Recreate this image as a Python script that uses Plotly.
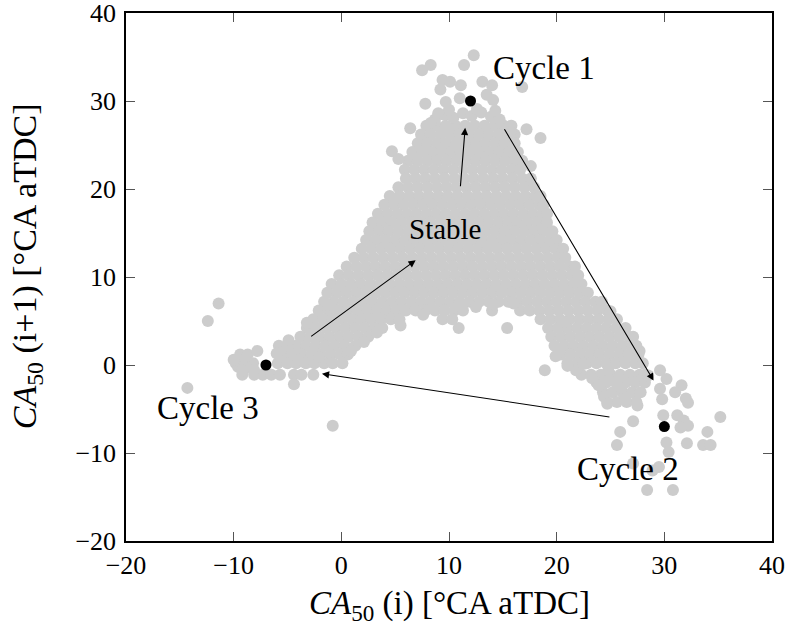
import plotly.graph_objects as go

# ---------------- data ----------------
tick_vals = [-20, -10, 0, 10, 20, 30, 40]
tick_text = ["\u221220", "\u221210", "0", "10", "20", "30", "40"]

# dense cloud, listed row by row: y value -> x values of the points in that row
core_rows = {
    27.2: [7.9, 8.8, 9.7, 10.6, 11.5, 12.4, 13.3, 14.2, 15.1, 15.8],
    26.2: [7.4, 8.3, 9.2, 10.1, 11.0, 11.9, 12.8, 13.7, 14.6, 15.5, 16.1],
    25.2: [7.1, 8.0, 8.9, 9.8, 10.7, 11.6, 12.5, 13.4, 14.3, 15.2, 16.1],
    24.2: [6.6, 7.5, 8.4, 9.3, 10.2, 11.1, 12.0, 12.9, 13.8, 14.7, 15.6, 16.4],
    23.2: [6.2, 7.1, 8.0, 8.9, 9.8, 10.7, 11.6, 12.5, 13.4, 14.3, 15.2, 16.1, 16.8],
    22.2: [5.9, 6.8, 7.7, 8.6, 9.5, 10.4, 11.3, 12.2, 13.1, 14.0, 14.9, 15.8, 16.6],
    21.2: [6.0, 6.9, 7.8, 8.7, 9.6, 10.5, 11.4, 12.3, 13.2, 14.1, 15.0, 15.9, 16.8, 17.6],
    20.2: [5.3, 6.2, 7.1, 8.0, 8.9, 9.8, 10.7, 11.6, 12.5, 13.4, 14.3, 15.2, 16.1, 17.0, 17.9],
    19.2: [4.5, 5.4, 6.3, 7.2, 8.1, 9.0, 9.9, 10.8, 11.7, 12.6, 13.5, 14.4, 15.3, 16.2,
           17.1, 18.0, 18.5],
    18.2: [4.0, 4.9, 5.8, 6.7, 7.6, 8.5, 9.4, 10.3, 11.2, 12.1, 13.0, 13.9, 14.8, 15.7,
           16.6, 17.5, 18.4, 18.8],
    17.2: [3.4, 4.3, 5.2, 6.1, 7.0, 7.9, 8.8, 9.7, 10.6, 11.5, 12.4, 13.3, 14.2, 15.1,
           16.0, 16.9, 17.8, 18.7, 19.1],
    16.2: [2.9, 3.8, 4.7, 5.6, 6.5, 7.4, 8.3, 9.2, 10.1, 11.0, 11.9, 12.8, 13.7, 14.6,
           15.5, 16.4, 17.3, 18.2, 19.1],
    15.2: [2.6, 3.5, 4.4, 5.3, 6.2, 7.1, 8.0, 8.9, 9.8, 10.7, 11.6, 12.5, 13.4, 14.3,
           15.2, 16.1, 17.0, 17.9, 18.8, 19.6],
    14.2: [2.3, 3.2, 4.1, 5.0, 5.9, 6.8, 7.7, 8.6, 9.5, 10.4, 11.3, 12.2, 13.1, 14.0,
           14.9, 15.8, 16.7, 17.6, 18.5, 19.4, 20.0],
    13.2: [1.9, 2.8, 3.7, 4.6, 5.5, 6.4, 7.3, 8.2, 9.1, 10.0, 10.9, 11.8, 12.7, 13.6,
           14.5, 15.4, 16.3, 17.2, 18.1, 19.0, 19.9, 20.6],
    12.2: [1.2, 2.1, 3.0, 3.9, 4.8, 5.7, 6.6, 7.5, 8.4, 9.3, 10.2, 11.1, 12.0, 12.9,
           13.8, 14.7, 15.6, 16.5, 17.4, 18.3, 19.2, 20.1, 20.8],
    11.2: [0.5, 1.4, 2.3, 3.2, 4.1, 5.0, 5.9, 6.8, 7.7, 8.6, 9.5, 10.4, 11.3, 12.2,
           13.1, 14.0, 14.9, 15.8, 16.7, 17.6, 18.5, 19.4, 20.3, 21.2, 21.7],
    10.2: [-0.2, 0.7, 1.6, 2.5, 3.4, 4.3, 5.2, 6.1, 7.0, 7.9, 8.8, 9.7, 10.6, 11.5,
           12.4, 13.3, 14.2, 15.1, 16.0, 16.9, 17.8, 18.7, 19.6, 20.5, 21.4, 22.0],
    9.2: [-0.9, 0.0, 0.9, 1.8, 2.7, 3.6, 4.5, 5.4, 6.3, 7.2, 8.1, 9.0, 9.9, 10.8, 11.7,
          12.6, 13.5, 14.4, 15.3, 16.2, 17.1, 18.0, 18.9, 19.8, 20.7, 21.6, 22.3],
    8.2: [-1.3, -0.4, 0.5, 1.4, 2.3, 3.2, 4.1, 5.0, 5.9, 6.8, 7.7, 8.6, 9.5, 10.4, 11.3,
          12.2, 13.1, 14.0, 14.9, 15.8, 16.7, 17.6, 18.5, 19.4, 20.3, 21.2, 22.1, 22.9],
    7.2: [-1.6, -0.7, 0.2, 1.1, 2.0, 2.9, 3.8, 4.7, 5.6, 6.5, 7.4, 8.3, 9.2, 10.1, 11.0,
          11.9, 12.8, 13.7, 14.6, 15.5, 16.4, 17.3, 18.2, 19.1, 20.0, 20.9, 21.8, 22.7,
          23.6, 24.2],
    6.2: [-2.1, -1.2, -0.3, 0.6, 1.5, 2.4, 3.3, 4.2, 5.1, 6.0, 6.9, 7.8, 8.7, 9.6, 10.5,
          11.3, 14.0, 16.6, 17.5, 18.4, 19.3, 20.2, 21.1, 22.0, 22.9, 23.8, 24.7],
    5.2: [-2.6, -1.7, -0.8, 0.1, 1.0, 1.9, 2.8, 3.7, 4.6, 5.4, 9.4, 10.3, 18.5, 19.4,
          20.3, 21.2, 22.1, 23.0, 23.9, 24.8, 25.6],
    4.2: [-3.2, -2.3, -1.4, -0.5, 0.4, 1.3, 2.2, 3.1, 3.8, 10.9, 15.4, 19.2, 20.1, 21.0,
          21.9, 22.8, 23.7, 24.6, 25.5, 26.4],
    3.2: [-3.8, -2.9, -2.0, -1.1, -0.2, 0.7, 1.6, 2.5, 19.5, 20.4, 21.3, 22.2, 23.1,
          24.0, 24.9, 25.8, 26.7, 27.1],
    2.2: [-5.8, -5.0, -4.2, -3.3, -2.4, -1.5, -0.6, 0.3, 1.3, 19.8, 20.7, 21.6, 22.5,
          23.4, 24.3, 25.2, 26.1, 27.0, 27.4],
    1.2: [-9.4, -8.7, -5.4, -4.6, -3.7, -2.8, -1.9, -1.0, -0.1, 0.6, 20.4, 21.3, 22.2,
          23.1, 24.0, 24.9, 25.8, 26.7, 27.6],
    0.2: [-9.8, -9.0, -8.2, -5.9, -5.0, -4.2, -3.3, -2.5, -1.6, -0.8, 0.1, 21.0, 21.9,
          22.8, 23.7, 24.6, 25.5, 26.4, 27.3, 28.0],
    -1.1: [-9.2, -8.1, -7.3, -6.5, -5.7, -4.4, -3.7, -2.6, 22.3, 23.2, 24.1, 25.0, 25.9,
           26.8, 27.7, 28.2],
    -2.0: [23.7, 24.6, 25.5, 26.4, 27.3, 28.2],
    -3.1: [24.3, 25.2, 26.1, 27.0, 27.8],
    -4.2: [24.7, 25.6, 26.5, 27.4],
}

# irregular top edge of the dense cloud and the sparse points near cycle 1
top_x = [8.7, 9.6, 10.4, 11.3, 12.1, 13.0, 13.9, 14.7, 10.0, 12.6, 14.3,
         7.5, 8.3, 11.4, 12.3, 9.4, 10.1, 11.1, 9.2, 13.1, 14.0, 7.8, 9.7, 11.0,
         13.5, 14.1, 16.8, 9.0, 6.4, 8.3, 15.7, 17.2, 18.5, 4.7, 5.3, 17.6]
top_y = [27.9, 28.4, 28.1, 28.6, 28.3, 28.7, 28.2, 27.9, 29.0, 29.1, 28.9,
         33.5, 34.1, 34.1, 35.2, 32.4, 32.2, 31.8, 31.3, 32.2, 31.8, 29.7, 29.9, 30.3,
         30.7, 30.1, 31.6, 28.6, 26.9, 27.5, 26.5, 26.8, 25.8, 24.3, 23.4, 22.6]

# irregular edge points along the arms
edge_x = [-7.8, -6.0, -4.9, -3.2, -1.2, 0.9, 2.1, 3.3, 5.5, 7.6, 12.5, 16.0,
          19.9, 21.8, 23.3, 24.4, 26.0, 27.7, -9.6, -8.5, -4.0, -2.1, 20.8, 25.0]
edge_y = [1.6, 1.3, 2.8, 4.8, 6.8, 1.6, 2.6, 3.7, 4.5, 5.7, 6.6, 7.0,
          1.0, -0.6, -1.5, -3.6, -2.6, 1.6, -0.2, -0.3, 0.6, 0.9, 4.9, 6.1]

# scattered points on the right (near cycle 2)
right_x = [29.6, 30.2, 31.6, 31.0, 32.0, 32.2, 29.6, 29.8, 29.9, 31.2, 31.8, 32.2,
           31.5, 35.2, 34.0, 33.6, 34.3, 32.1, 30.2, 30.4, 29.5, 28.9, 28.4, 30.8,
           27.1, 25.6, 25.9, 27.1, 24.7, 27.5, 26.4, 23.9, 24.8, 18.9, 21.0, 22.5,
           28.5, 14.1]
right_y = [-0.6, -1.6, -2.3, -3.1, -3.8, -4.3, -2.7, -3.9, -5.7, -5.7, -6.3, -6.9,
           -7.1, -5.9, -7.6, -9.1, -9.1, -8.9, -8.8, -9.9, -11.6, -12.0, -14.2, -14.2,
           -11.2, -9.1, -7.6, -6.4, -4.4, -4.6, -4.0, -2.3, -0.6, -0.6, -0.1, 0.1,
           -1.2, 6.9]

# scattered points on the left (near cycle 3)
left_x = [-11.4, -12.4, -14.3, -0.8, -4.4, -10.0, -9.2, -8.1]
left_y = [7.0, 5.0, -2.6, -6.9, -2.2, 0.6, -0.6, -0.6]

# the three highlighted cycles
cycle_x = [12, 30, -7]
cycle_y = [30, -7, 0]

# labels
label_text = ["Cycle 1", "Cycle 2", "Cycle 3", "Stable"]
label_x = [18.8, 26.6, -12.4, 9.7]
label_y = [33.8, -11.8, -4.9, 15.4]

# arrows: tail (ax, ay) -> head (x, y)
arrow_tail_x = [11.05, -2.94, 15.07, 25.04]
arrow_tail_y = [20.15, 3.13, 26.95, -5.93]
arrow_head_x = [11.5, 6.9, 29.0, -1.8]
arrow_head_y = [26.95, 11.9, -1.77, -1.0]

# ---------------- build figure ----------------
cloud_x, cloud_y = [], []
for yv, xs in core_rows.items():
    for xv in xs:
        cloud_x.append(xv)
        cloud_y.append(yv)
cloud_x += top_x + edge_x + right_x + left_x
cloud_y += top_y + edge_y + right_y + left_y

FONT = "Liberation Serif"

fig = go.Figure()
fig.add_trace(go.Scatter(
    x=cloud_x, y=cloud_y, mode="markers",
    marker=dict(size=12, color="#cccccc", line=dict(width=0)),
    hoverinfo="skip", showlegend=False))
fig.add_trace(go.Scatter(
    x=cycle_x, y=cycle_y, mode="markers",
    marker=dict(size=11, color="black", line=dict(width=0)),
    showlegend=False))

annotations = []
for hx, hy, tx, ty in zip(arrow_head_x, arrow_head_y, arrow_tail_x, arrow_tail_y):
    annotations.append(dict(
        x=hx, y=hy, ax=tx, ay=ty, xref="x", yref="y", axref="x", ayref="y",
        text="", showarrow=True, arrowhead=2, arrowsize=1.3, arrowwidth=1.1,
        arrowcolor="black", standoff=0, startstandoff=0))

for t, x, y in zip(label_text, label_x, label_y):
    annotations.append(dict(
        x=x, y=y, xref="x", yref="y", text=t, showarrow=False,
        font=dict(family=FONT, size=29 if t == "Stable" else 33, color="black"),
        xanchor="center", yanchor="middle"))

# axis titles
annotations.append(dict(
    x=0.5, y=-0.122, xref="paper", yref="paper", showarrow=False,
    text="<i>CA</i><sub>50</sub> (i) [°CA aTDC]",
    font=dict(family=FONT, size=33, color="black"),
    xanchor="center", yanchor="middle"))
annotations.append(dict(
    x=-0.152, y=0.52, xref="paper", yref="paper", showarrow=False,
    text="<i>CA</i><sub>50</sub> (i+1) [°CA aTDC]", textangle=-90,
    font=dict(family=FONT, size=34, color="black"),
    xanchor="center", yanchor="middle"))

axis_common = dict(
    range=[-20, 40], tickvals=tick_vals, ticktext=tick_text,
    ticks="inside", ticklen=9, tickwidth=1, tickcolor="#555555",
    showline=True, linecolor="black", linewidth=1.5, mirror="allticks",
    showgrid=False, zeroline=False, ticklabeloverflow="allow", automargin=False,
    tickfont=dict(family=FONT, size=26, color="black"))

fig.update_layout(
    width=788, height=628,
    margin=dict(l=126, r=16, t=13, b=87, autoexpand=False),
    plot_bgcolor="white", paper_bgcolor="white",
    xaxis=dict(**axis_common, ticklabelstandoff=0),
    yaxis=dict(**axis_common, ticklabelstandoff=3),
    annotations=annotations,
    showlegend=False,
)

fig.write_html("out.html")
